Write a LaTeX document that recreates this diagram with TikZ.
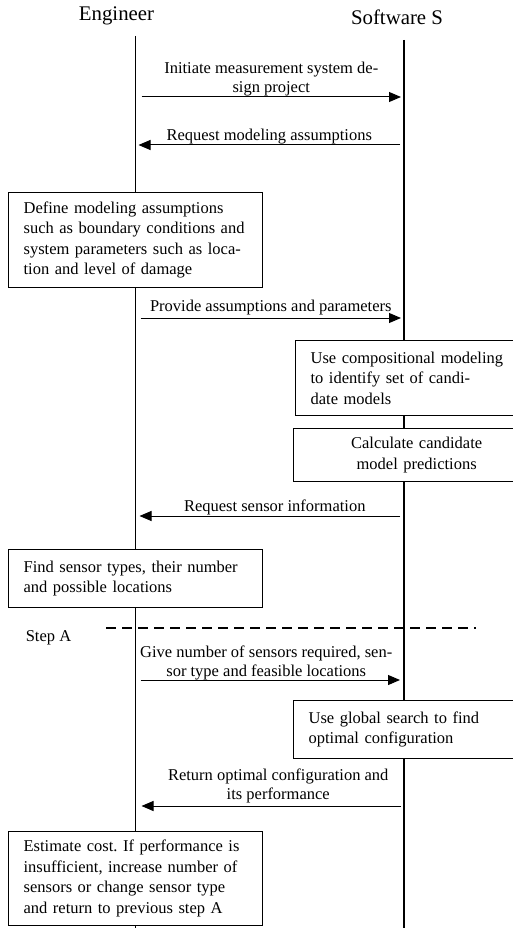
\documentclass[tikz,border=0pt]{standalone}
\usepackage{fontspec}
\setmainfont{Liberation Serif}
\frenchspacing
\usepackage{tikz}
\usetikzlibrary{positioning, arrows.meta}
\tikzset{
  actor/.style   = {font=\fontsize{20.8}{24}\selectfont, anchor=base, inner sep=0pt},
  life/.style    = {line width=1.2pt},
  task/.style    = {rectangle, draw, line width=1.3pt, fill=white, anchor=north west,
                    font=\fontsize{16.5}{20.5}\selectfont, align=left,
                    inner xsep=15pt, inner ysep=2pt},
  msg/.style     = {-{Triangle[length=12pt,width=10pt]}, line width=1pt},
  msgtxt/.style  = {font=\fontsize{16.5}{19.5}\selectfont, align=center, inner sep=2pt},
  stepline/.style= {dash pattern=on 10pt off 6pt, line width=1.8pt},
}

\begin{document}
\begin{tikzpicture}[x=1pt, y=-1pt]

  \useasboundingbox (0,0) rectangle (513,928);

  % actors and lifelines
  \node[actor] (eng) at (116.5,21) {Engineer};
  \node[actor] (sw)  at (397,25)   {Software S};
  \coordinate (engtop) at (135.5,36);
  \coordinate (engbot) at (135.5,930);
  \coordinate (swtop)  at (404,40);
  \coordinate (swbot)  at (404,930);
  \draw[life] (engtop) -- (engbot);
  \draw[life] (swtop) -- (swbot);

  % messages and activities, top to bottom
  \draw[msg] ([xshift=6pt]engtop |- 0,97) -- ([xshift=-3pt]swtop |- 0,97)
    node[msgtxt, midway, above, yshift=-2pt] {Initiate measurement system de-\\sign project};
  \draw[msg] ([xshift=-4pt]swtop |- 0,145) -- ([xshift=3pt]engtop |- 0,145)
    node[msgtxt, midway, above, yshift=-2pt] {Request modeling assumptions};

  \node[task, text width=224pt, minimum width=254pt, minimum height=95pt] (define) at (8,192)
    {Define modeling assumptions\\ such as boundary conditions and\\
     system parameters such as loca-\\tion and level of damage};

  \draw[msg] ([xshift=5pt]engtop |- 0,318) -- ([xshift=-3pt]swtop |- 0,318)
    node[msgtxt, midway, above] {Provide assumptions and parameters};

  \node[task, text width=216pt, minimum width=246pt, minimum height=75pt] (compose) at (295,340)
    {Use compositional modeling\\ to identify set of candi-\\date models};
  \node[task, text width=216pt, minimum width=246pt, minimum height=53pt, align=center] (predict) at (293,428)
    {Calculate candidate\\model predictions};

  \draw[msg] ([xshift=-4pt]swtop |- 0,516) -- ([xshift=4pt]engtop |- 0,516)
    node[msgtxt, midway, above, xshift=5pt, yshift=-2pt] {Request sensor information};

  \node[task, text width=224pt, minimum width=254pt, minimum height=58pt] (find) at (8,549)
    {Find sensor types, their number\\ and possible locations};

  % return point for the loop
  \node[font=\fontsize{16.5}{20.5}\selectfont] (stepA) at (48.5,638) {Step A};
  \coordinate (stepL) at (106,628);
  \coordinate (stepR) at (476,628);
  \draw[stepline] (stepL) -- (stepR);

  \draw[msg] ([xshift=5pt]engtop |- 0,680) -- ([xshift=-4pt]swtop |- 0,680)
    node[msgtxt, midway, above, xshift=-4pt, inner sep=0pt, yshift=-1pt] {Give number of sensors required, sen-\\sor type and feasible locations};

  \node[task, text width=216pt, minimum width=246pt, minimum height=58pt] (search) at (293,700)
    {Use global search to find\\ optimal configuration};

  \draw[msg] ([xshift=-3pt]swtop |- 0,806) -- ([xshift=6pt]engtop |- 0,806)
    node[msgtxt, midway, above, xshift=7pt] {Return optimal configuration and\\its performance};

  \node[task, text width=224pt, minimum width=254pt, minimum height=94pt] (estimate) at (8,831)
    {Estimate cost. If performance is\\ insufficient, increase number of\\
     sensors or change sensor type\\ and return to previous step A};

\end{tikzpicture}
\end{document}
